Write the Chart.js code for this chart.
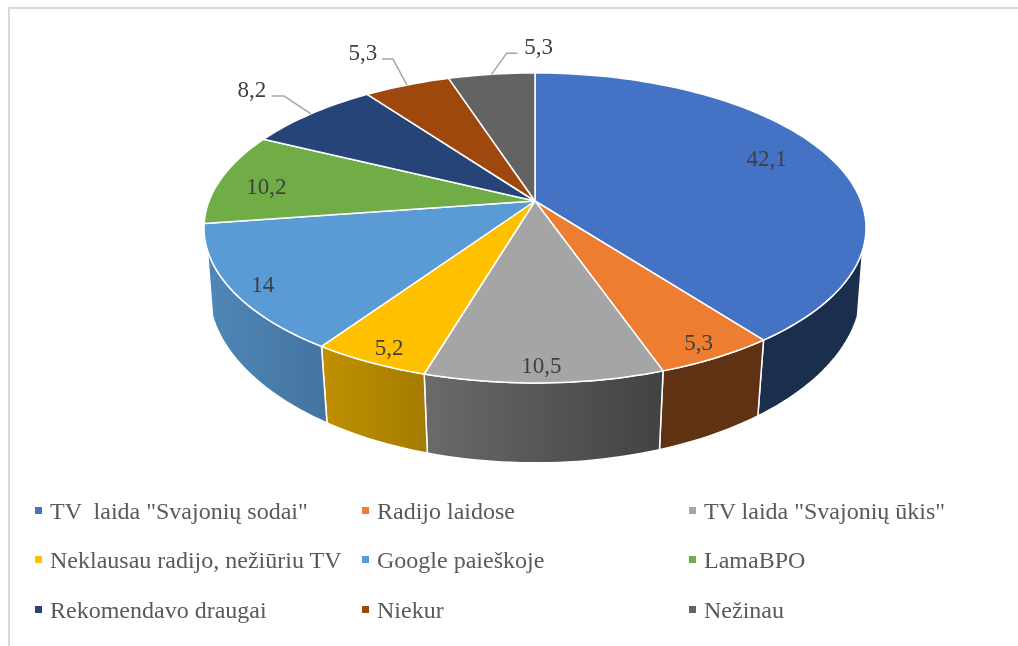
<!DOCTYPE html>
<html>
<head>
<meta charset="utf-8">
<script src="https://cdn.jsdelivr.net/npm/chart.js@4"></script>
<style>
    html, body { margin: 0; padding: 0; background: #fff; }
    #wrap { position: relative; width: 1018px; height: 646px; overflow: hidden; }
    #frame { position: absolute; left: 8px; top: 7px; right: 0; bottom: 0; border-left: 2px solid #d9d9d9; border-top: 2px solid #d9d9d9; }
    canvas { position: absolute; left: 0; top: 0; }
    .legend-item { position: absolute; font: 24px "Liberation Serif", serif; color: #595959; white-space: pre; line-height: 26px; }
    .legend-item i { position: absolute; left: -15px; top: 9px; width: 7px; height: 7px; }
</style>
</head>
<body>
<div id="wrap">
    <div id="frame"></div>
    <canvas id="chart" width="1018" height="646"></canvas>
</div>
<script>
const categories = ['TV  laida "Svajonių sodai"', 'Radijo laidose', 'TV laida "Svajonių ūkis"',
    'Neklausau radijo, nežiūriu TV', 'Google paieškoje', 'LamaBPO',
    'Rekomendavo draugai', 'Niekur', 'Nežinau'];
const values = [42.1, 5.3, 10.5, 5.2, 14, 10.2, 8.2, 5.3, 5.3];
const colors = ['#4472c4', '#ed7d31', '#a5a5a5', '#ffc000', '#5b9bd5', '#70ad47', '#264478', '#9e480e', '#636363'];

// perspective of the tilted disc, in units of the arc radius
const TOP = { a: 2.173, b: 1.002, k: 0.174, dy: 0 };
const BOTTOM = { a: 2.15, b: 1.133, k: 0.158, dy: 60 };
// the wall is only seen on this part of the rim
const WALL_FROM = 18 * Math.PI / 180;
const WALL_TO = 162 * Math.PI / 180;

// where the value sits along its slice (1 = rim), null = outside with a leader
const labelRadius = [0.81, 0.9, 0.92, 0.91, 0.91, 0.85, null, null, null];
const labelNudge = [[-8, -4], [3, 5], [-2, 1], [2, 4], [2, 5], [-1, 6]];
// leader: elbow and text centre relative to the rim point
const leaders = {
    6: { elbow: [-27, -18], end: [-39, -18], text: [-59, -23] },
    7: { elbow: [-14, -26], end: [-25, -26], text: [-44, -31] },
    8: { elbow: [15, -21], end: [26, -21], text: [47, -26] }
};

const project = (el, r, ang, p) => {
    const X = r * Math.cos(ang), Y = r * Math.sin(ang);
    const w = 1 - p.k * Y;
    const R = el.outerRadius;
    return [el.x + p.a * R * X / w, el.y + p.dy + p.b * R * Y / w];
};

const rim = (ctx, el, p, from, to) => {
    const steps = Math.max(6, Math.ceil(Math.abs(to - from) * 40));
    for (let i = 0; i <= steps; i++) {
        const pt = project(el, 1, from + (to - from) * i / steps, p);
        ctx.lineTo(pt[0], pt[1]);
    }
};

const disc3d = {
    id: 'disc3d',
    beforeDatasetsDraw(chart) {
        const ctx = chart.ctx;
        const arcs = chart.getDatasetMeta(0).data;
        const shade = ctx.createLinearGradient(206, 0, 661, 0);
        shade.addColorStop(0, 'rgba(0,0,0,0.13)');
        shade.addColorStop(1, 'rgba(0,0,0,0.60)');

        ctx.save();
        ctx.lineJoin = 'round';
        ctx.strokeStyle = '#fff';
        ctx.lineWidth = 1.5;

        // side wall first, the top face covers the edge of it
        arcs.forEach((el, i) => {
            const from = Math.max(el.startAngle, WALL_FROM);
            const to = Math.min(el.endAngle, WALL_TO);
            if (to <= from) return;
            ctx.beginPath();
            rim(ctx, el, TOP, from, to);
            rim(ctx, el, BOTTOM, to, from);
            ctx.closePath();
            ctx.fillStyle = colors[i];
            ctx.fill();
            ctx.fillStyle = shade;
            ctx.fill();
            ctx.stroke();
        });

        arcs.forEach((el, i) => {
            const c = project(el, 0, 0, TOP);
            ctx.beginPath();
            ctx.moveTo(c[0], c[1]);
            rim(ctx, el, TOP, el.startAngle, el.endAngle);
            ctx.closePath();
            ctx.fillStyle = colors[i];
            ctx.fill();
            ctx.stroke();
        });

        ctx.font = '23px "Liberation Serif", serif';
        ctx.textAlign = 'center';
        ctx.textBaseline = 'middle';
        arcs.forEach((el, i) => {
            const mid = (el.startAngle + el.endAngle) / 2;
            const text = String(values[i]).replace('.', ',');
            let pos;
            if (labelRadius[i] !== null) {
                const p = project(el, labelRadius[i], mid, TOP);
                pos = [p[0] + labelNudge[i][0], p[1] + labelNudge[i][1]];
            } else {
                const p = project(el, 1, mid, TOP);
                const l = leaders[i];
                ctx.beginPath();
                ctx.moveTo(p[0], p[1]);
                ctx.lineTo(p[0] + l.elbow[0], p[1] + l.elbow[1]);
                ctx.lineTo(p[0] + l.end[0], p[1] + l.end[1]);
                ctx.strokeStyle = '#a6a6a6';
                ctx.stroke();
                pos = [p[0] + l.text[0], p[1] + l.text[1]];
            }
            ctx.fillStyle = '#404040';
            ctx.fillText(text, pos[0], pos[1]);
        });
        ctx.restore();
        return false; // the flat arcs are replaced by the tilted ones
    }
};

new Chart(document.getElementById('chart'), {
    type: 'pie',
    data: {
        labels: categories,
        datasets: [{ data: values, backgroundColor: colors, borderWidth: 0 }]
    },
    options: {
        responsive: false,
        animation: false,
        // leaves a 150px radius pie centred on the apex of the disc
        layout: { padding: { left: 385, right: 333, top: 51, bottom: 295 } },
        plugins: { legend: { display: false }, tooltip: { enabled: false } }
    },
    plugins: [disc3d]
});

// legend, three columns like the original
const colX = [50, 377, 704];
const rowY = [498, 547, 597];
const wrap = document.getElementById('wrap');
categories.forEach((name, i) => {
    const item = document.createElement('div');
    item.className = 'legend-item';
    item.style.left = colX[i % 3] + 'px';
    item.style.top = rowY[Math.floor(i / 3)] + 'px';
    item.textContent = name;
    const box = document.createElement('i');
    box.style.background = colors[i];
    item.appendChild(box);
    wrap.appendChild(item);
});
</script>
</body>
</html>
